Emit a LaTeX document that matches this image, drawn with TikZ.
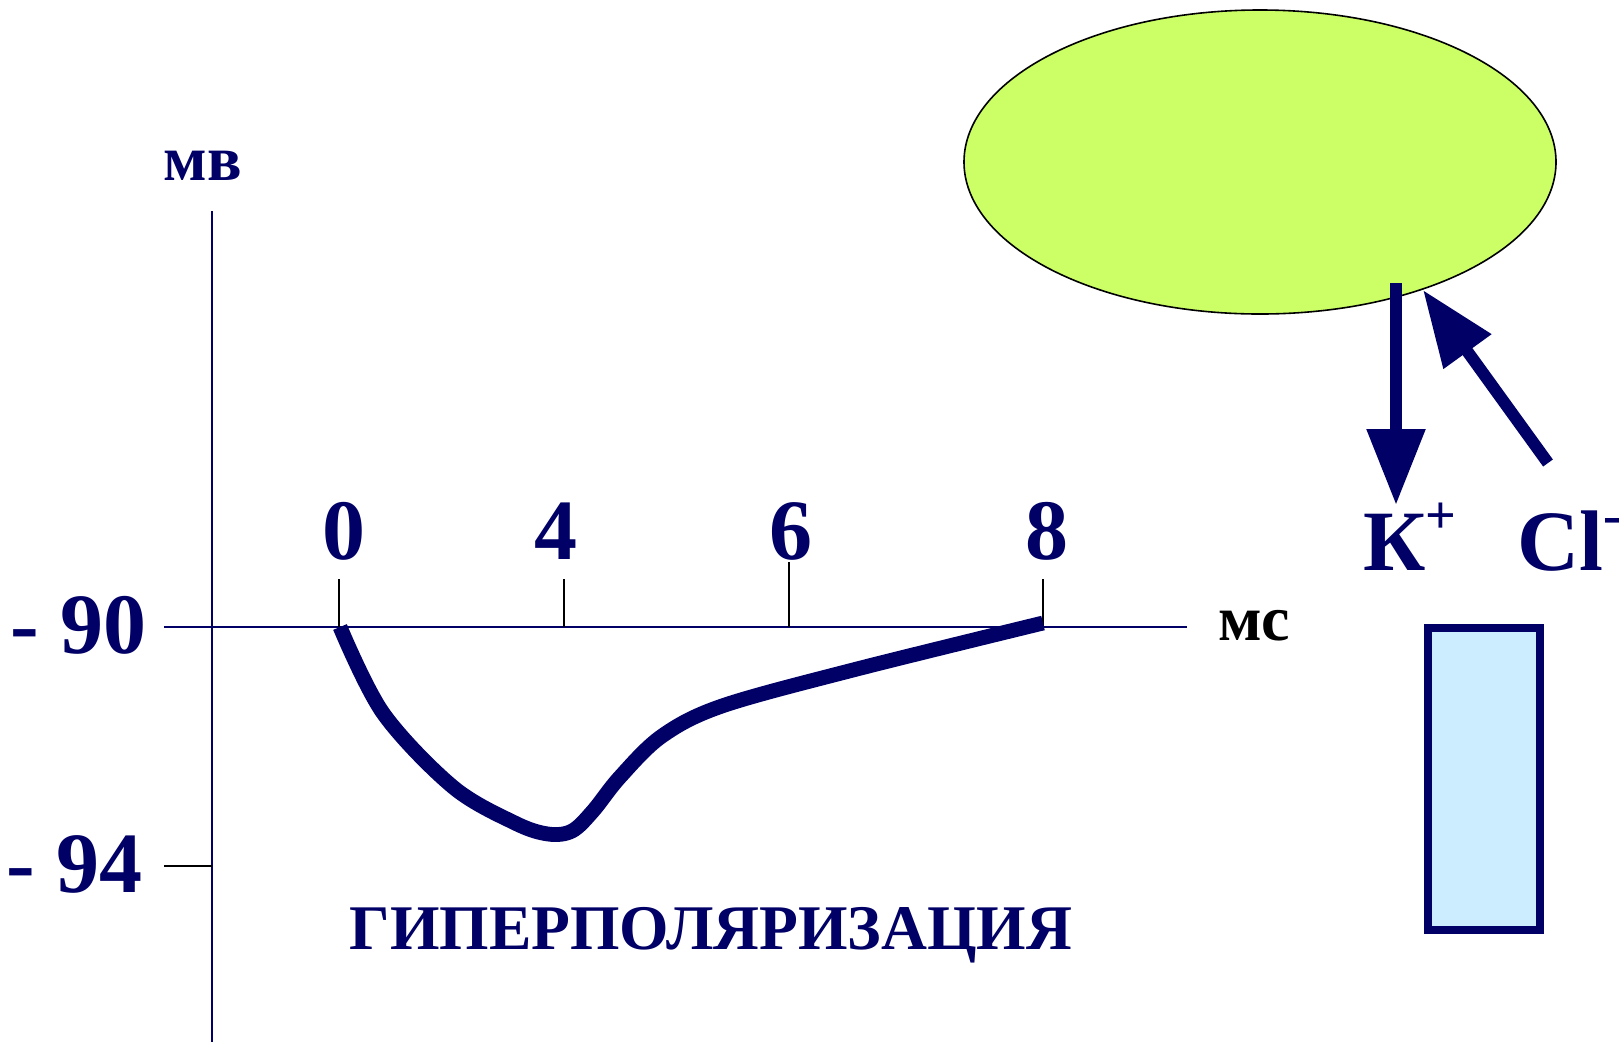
\documentclass[tikz,border=0pt]{standalone}
\usepackage{fontspec}
\setmainfont{Liberation Serif}
\usetikzlibrary{arrows.meta,shapes.geometric}
\definecolor{navy}{HTML}{000066}
\definecolor{cellgreen}{HTML}{CCFF66}
\definecolor{tubeblue}{HTML}{CCECFF}
\begin{document}
\begin{tikzpicture}[x=0.5bp,y=-0.5bp,
  big/.style={text=navy,font=\bfseries\fontsize{43bp}{50bp}\selectfont,inner sep=0pt},
  unitlbl/.style={font=\bfseries\fontsize{32bp}{38bp}\selectfont,inner sep=0pt},
  titlelbl/.style={text=navy,font=\bfseries\fontsize{31.8bp}{36bp}\selectfont,inner sep=0pt},
  axis/.style={draw=navy,line width=1.2bp},
  tick/.style={draw=black,line width=1bp},
  ionarrow/.style={draw=navy,line width=6bp,-{Triangle[length=38bp,width=28bp]}},
]
\useasboundingbox (0,0) rectangle (1623,1046);
% axes
\draw[axis] (212,211) -- (212,1042);
\draw[axis] (164,627) -- (1187,627);
\draw[tick] (164,866) -- (212,866);
\draw[tick] (339,579) -- (339,627);
\draw[tick] (564,579) -- (564,627);
\draw[tick] (789,562) -- (789,627);
\draw[tick] (1043,579) -- (1043,627);
% labels
\node[unitlbl,text=navy,anchor=base] (mv) at (203,180) {мв};
\node[unitlbl,text=black,anchor=base] (ms) at (1254,640) {мс};
\node[big,anchor=base east] (m90) at (147,653) {- 90};
\node[big,anchor=base east] (m94) at (143,892) {- 94};
\node[big,anchor=base] (t0) at (344,559) {0};
\node[big,anchor=base] (t4) at (556,559) {4};
\node[big,anchor=base] (t6) at (791,559) {6};
\node[big,anchor=base] (t8) at (1047,559) {8};
\node[titlelbl,anchor=base] (title) at (711,949) {ГИПЕРПОЛЯРИЗАЦИЯ};
% curve
\draw[navy,line width=7.4bp,line join=round] plot[smooth,tension=0.55] coordinates
  {(340,627) (383,713) (453,787) (515,823) (548,834) (572,831) (593,811) (620,777) (662,736) (722,706) (853,670) (1043,623)};
% cell
\node[ellipse,draw=black,line width=0.8bp,fill=cellgreen,minimum width=296bp,minimum height=152bp,inner sep=0pt] (cell) at (1260,162) {};
% ions
\node[big,anchor=base west] (K) at (1363,570) {К\raisebox{0.42em}{\fontsize{27bp}{30bp}\selectfont +}};
\node[big,anchor=base west] (Cl) at (1517,570) {Cl\raisebox{0.42em}{\fontsize{27bp}{30bp}\selectfont -}};
\coordinate (ktop) at (1396,283);
\coordinate (ktip) at (1396,505);
\coordinate (cltail) at (1548,463);
\coordinate (cltip) at (1423,290);
\draw[ionarrow] (ktop) -- (ktip);
\draw[ionarrow] (cltail) -- (cltip);
% tube
\node[draw=navy,line width=4bp,fill=tubeblue,minimum width=56bp,minimum height=151bp,inner sep=0pt] (tube) at (1484,779) {};
\end{tikzpicture}
\end{document}
